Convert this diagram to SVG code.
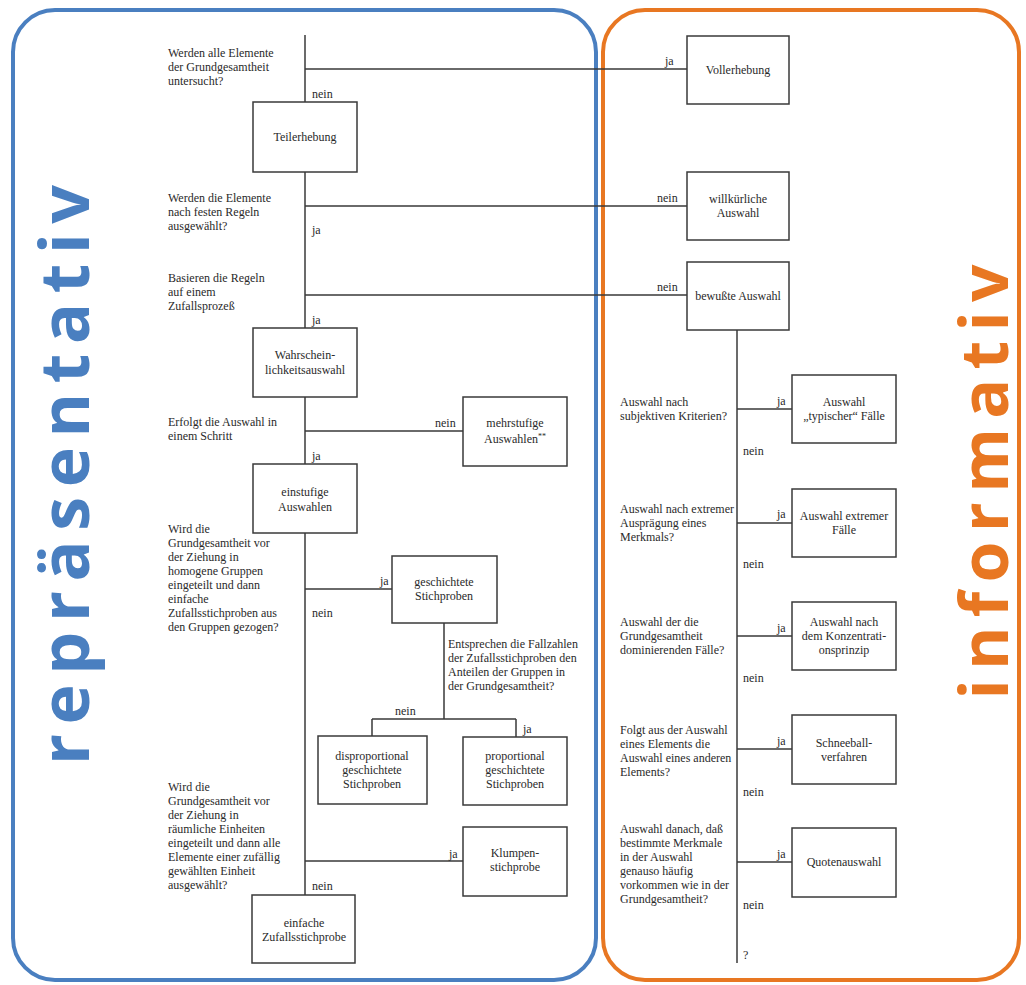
<svg xmlns="http://www.w3.org/2000/svg" width="1026" height="985" viewBox="0 0 1026 985">
<style>
.frame{fill:none;stroke-width:4}
.box{fill:#fff;stroke:#3a3a3a;stroke-width:1.5}
.ln{fill:none;stroke:#3a3a3a;stroke-width:1.5}
.t text, text.t{font-family:"Liberation Serif","DejaVu Serif",serif;font-size:12px;fill:#2a2a2a}
.c{text-anchor:middle}
.big{font-family:"Open Sans","DejaVu Sans",sans-serif;font-weight:bold;text-anchor:middle}
</style>
<rect width="1026" height="985" fill="#fff"/>
<g id="frame-repraesentativ">
<rect class="frame" x="13" y="10" width="583" height="970" rx="42" stroke="#4a7fc0"/>
<text class="big" font-size="68" fill="#4a7fc0" transform="translate(89,475) rotate(-90)" textLength="580" lengthAdjust="spacing">repräsentativ</text>
</g>
<g id="frame-informativ">
<rect class="frame" x="603" y="10" width="416" height="970" rx="42" stroke="#e87722"/>
<text class="big" font-size="66" fill="#e87722" transform="translate(1008,482) rotate(-90)" textLength="435" lengthAdjust="spacing">informativ</text>
</g>
<g id="connectors">
<path class="ln" d="M305 35V895"/>
<path class="ln" d="M305 69H687M305 206H687M305 295H687M305 431H463M305 589H392M305 861H463"/>
<path class="ln" d="M444 623V719M372 719H516M372 719V736M516 719V737"/>
<path class="ln" d="M737 330V963"/>
<path class="ln" d="M737 409H792M737 523H792M737 636H792M737 749H792M737 862H792"/>
</g>
<g id="labels" class="t" font-family="Liberation Serif, DejaVu Serif, serif">
<text x="665" y="65">ja</text>
<text x="312" y="98">nein</text>
<text x="657" y="202">nein</text>
<text x="312" y="234">ja</text>
<text x="657" y="291">nein</text>
<text x="435" y="427">nein</text>
<text x="312" y="324">ja</text>
<text x="312" y="460">ja</text>
<text x="380" y="585">ja</text>
<text x="312" y="617">nein</text>
<text x="395" y="715">nein</text>
<text x="523" y="733">ja</text>
<text x="449" y="858">ja</text>
<text x="312" y="890">nein</text>
<text x="777" y="405">ja</text>
<text x="743" y="455">nein</text>
<text x="777" y="518">ja</text>
<text x="743" y="568">nein</text>
<text x="777" y="632">ja</text>
<text x="743" y="682">nein</text>
<text x="777" y="745">ja</text>
<text x="743" y="796">nein</text>
<text x="777" y="858">ja</text>
<text x="743" y="909">nein</text>
<text x="743" y="959">?</text>
</g>
<g id="questions" class="t" font-family="Liberation Serif, DejaVu Serif, serif">
<text x="168" y="57">Werden alle Elemente</text>
<text x="168" y="71">der Grundgesamtheit</text>
<text x="168" y="85">untersucht?</text>
<text x="168" y="202">Werden die Elemente</text>
<text x="168" y="216">nach festen Regeln</text>
<text x="168" y="230">ausgewählt?</text>
<text x="168" y="282">Basieren die Regeln</text>
<text x="168" y="296">auf einem</text>
<text x="168" y="310">Zufallsprozeß</text>
<text x="168" y="426">Erfolgt die Auswahl in</text>
<text x="168" y="440">einem Schritt</text>
<text x="168" y="533">Wird die</text>
<text x="168" y="547">Grundgesamtheit vor</text>
<text x="168" y="561">der Ziehung in</text>
<text x="168" y="575">homogene Gruppen</text>
<text x="168" y="589">eingeteilt und dann</text>
<text x="168" y="603">einfache</text>
<text x="168" y="617">Zufallsstichproben aus</text>
<text x="168" y="631">den Gruppen gezogen?</text>
<text x="448" y="648">Entsprechen die Fallzahlen</text>
<text x="448" y="662">der Zufallsstichproben den</text>
<text x="448" y="676">Anteilen der Gruppen in</text>
<text x="448" y="690">der Grundgesamtheit?</text>
<text x="168" y="791">Wird die</text>
<text x="168" y="805">Grundgesamtheit vor</text>
<text x="168" y="819">der Ziehung in</text>
<text x="168" y="833">räumliche Einheiten</text>
<text x="168" y="847">eingeteilt und dann alle</text>
<text x="168" y="861">Elemente einer zufällig</text>
<text x="168" y="875">gewählten Einheit</text>
<text x="168" y="889">ausgewählt?</text>
<text x="620" y="406">Auswahl nach</text>
<text x="620" y="420">subjektiven Kriterien?</text>
<text x="620" y="513">Auswahl nach extremer</text>
<text x="620" y="527">Ausprägung eines</text>
<text x="620" y="541">Merkmals?</text>
<text x="620" y="626">Auswahl der die</text>
<text x="620" y="640">Grundgesamtheit</text>
<text x="620" y="654">dominierenden Fälle?</text>
<text x="620" y="734">Folgt aus der Auswahl</text>
<text x="620" y="748">eines Elements die</text>
<text x="620" y="762">Auswahl eines anderen</text>
<text x="620" y="776">Elements?</text>
<text x="620" y="833">Auswahl danach, daß</text>
<text x="620" y="847">bestimmte Merkmale</text>
<text x="620" y="861">in der Auswahl</text>
<text x="620" y="875">genauso häufig</text>
<text x="620" y="889">vorkommen wie in der</text>
<text x="620" y="903">Grundgesamtheit?</text>
</g>
<g id="n-teilerhebung" class="t" font-family="Liberation Serif, DejaVu Serif, serif"><rect class="box" x="253" y="102" width="104" height="70"/><text class="c" x="305" y="141">Teilerhebung</text></g>
<g id="n-wahrscheinlichkeitsauswahl" class="t" font-family="Liberation Serif, DejaVu Serif, serif"><rect class="box" x="253" y="328" width="104" height="69"/><text class="c" x="305" y="359">Wahrschein-</text><text class="c" x="305" y="374">lichkeitsauswahl</text></g>
<g id="n-mehrstufige" class="t" font-family="Liberation Serif, DejaVu Serif, serif"><rect class="box" x="463" y="397" width="104" height="69"/><text class="c" x="515" y="427">mehrstufige</text><text class="c" x="515" y="443">Auswahlen<tspan dy="-4" font-size="8">**</tspan></text></g>
<g id="n-einstufige" class="t" font-family="Liberation Serif, DejaVu Serif, serif"><rect class="box" x="253" y="464" width="104" height="69"/><text class="c" x="305" y="496">einstufige</text><text class="c" x="305" y="511">Auswahlen</text></g>
<g id="n-geschichtete" class="t" font-family="Liberation Serif, DejaVu Serif, serif"><rect class="box" x="392" y="556" width="105" height="67"/><text class="c" x="444" y="586">geschichtete</text><text class="c" x="444" y="600">Stichproben</text></g>
<g id="n-disproportional" class="t" font-family="Liberation Serif, DejaVu Serif, serif"><rect class="box" x="318" y="736" width="109" height="68"/><text class="c" x="372" y="760">disproportional</text><text class="c" x="372" y="774">geschichtete</text><text class="c" x="372" y="788">Stichproben</text></g>
<g id="n-proportional" class="t" font-family="Liberation Serif, DejaVu Serif, serif"><rect class="box" x="463" y="737" width="104" height="68"/><text class="c" x="515" y="760">proportional</text><text class="c" x="515" y="774">geschichtete</text><text class="c" x="515" y="788">Stichproben</text></g>
<g id="n-klumpen" class="t" font-family="Liberation Serif, DejaVu Serif, serif"><rect class="box" x="463" y="827" width="104" height="69"/><text class="c" x="515" y="857">Klumpen-</text><text class="c" x="515" y="871">stichprobe</text></g>
<g id="n-einfache" class="t" font-family="Liberation Serif, DejaVu Serif, serif"><rect class="box" x="252" y="895" width="103" height="68"/><text class="c" x="304" y="927">einfache</text><text class="c" x="304" y="941">Zufallsstichprobe</text></g>
<g id="n-vollerhebung" class="t" font-family="Liberation Serif, DejaVu Serif, serif"><rect class="box" x="687" y="36" width="102" height="68"/><text class="c" x="738" y="74">Vollerhebung</text></g>
<g id="n-willkuerliche" class="t" font-family="Liberation Serif, DejaVu Serif, serif"><rect class="box" x="687" y="172" width="102" height="68"/><text class="c" x="738" y="203">willkürliche</text><text class="c" x="738" y="217">Auswahl</text></g>
<g id="n-bewusste" class="t" font-family="Liberation Serif, DejaVu Serif, serif"><rect class="box" x="687" y="262" width="102" height="68"/><text class="c" x="738" y="300">bewußte Auswahl</text></g>
<g id="n-typischer" class="t" font-family="Liberation Serif, DejaVu Serif, serif"><rect class="box" x="792" y="375" width="104" height="68"/><text class="c" x="844" y="406">Auswahl</text><text class="c" x="844" y="420">„typischer“ Fälle</text></g>
<g id="n-extremer" class="t" font-family="Liberation Serif, DejaVu Serif, serif"><rect class="box" x="792" y="489" width="104" height="68"/><text class="c" x="844" y="520">Auswahl extremer</text><text class="c" x="844" y="534">Fälle</text></g>
<g id="n-konzentration" class="t" font-family="Liberation Serif, DejaVu Serif, serif"><rect class="box" x="792" y="602" width="104" height="68"/><text class="c" x="844" y="626">Auswahl nach</text><text class="c" x="844" y="640">dem Konzentrati-</text><text class="c" x="844" y="654">onsprinzip</text></g>
<g id="n-schneeball" class="t" font-family="Liberation Serif, DejaVu Serif, serif"><rect class="box" x="792" y="715" width="104" height="69"/><text class="c" x="844" y="747">Schneeball-</text><text class="c" x="844" y="761">verfahren</text></g>
<g id="n-quoten" class="t" font-family="Liberation Serif, DejaVu Serif, serif"><rect class="box" x="792" y="828" width="104" height="69"/><text class="c" x="844" y="866">Quotenauswahl</text></g>
</svg>
